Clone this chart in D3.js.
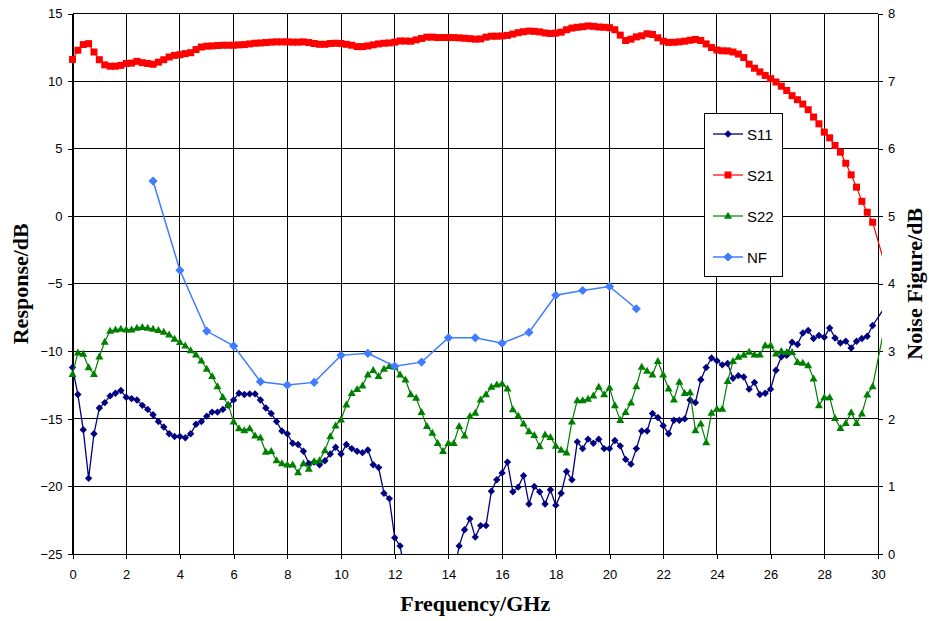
<!DOCTYPE html>
<html><head><meta charset="utf-8">
<script src="https://cdn.jsdelivr.net/npm/d3@7"></script>
<style>
html,body{margin:0;padding:0;background:#fff;}
svg{display:block;}
</style></head>
<body>
<svg id="chart" width="929" height="621"></svg>
<script>
// ---------- DATA ----------
// sweep grid: 0 to 29.8 GHz in 0.2 GHz steps, plus one sample just beyond the axis end
const freqStart = 0, freqStep = 0.2, freqCount = 150, tailFreq = 30.2;
const freq = d3.range(freqCount).map(i => +(freqStart + i * freqStep).toFixed(1)).concat([tailFreq]);

const s11 = [
 -11.2,-13.2,-15.8,-19.4,-16.1,-14.2,-13.8,-13.3,-13.1,-12.9,
 -13.4,-13.5,-13.6,-14.0,-14.3,-14.7,-15.2,-15.6,-16.1,-16.3,
 -16.3,-16.4,-16.1,-15.4,-15.2,-14.8,-14.5,-14.5,-14.3,-14.0,
 -13.6,-13.1,-13.2,-13.15,-13.15,-13.6,-14.2,-14.6,-15.2,-15.9,
 -16.1,-16.8,-16.9,-17.4,-18.3,-18.2,-18.4,-18.1,-17.6,-17.1,
 -17.6,-16.9,-17.2,-17.4,-17.5,-17.3,-18.4,-18.6,-20.5,-20.9,
 -23.8,-24.4,-26.6,-28.5,-30.5,-32,-33,-33,-32,-30.5,
 -28.5,-26.6,-24.4,-23.2,-22.4,-23.75,-22.9,-22.9,-20.35,-19.5,
 -19.0,-18.2,-20.4,-20.05,-19.2,-21.3,-20.0,-20.4,-21.3,-20.25,
 -21.4,-20.5,-18.9,-19.5,-16.7,-17.2,-16.5,-16.8,-16.5,-17.2,
 -17.2,-16.6,-17.0,-18.0,-18.35,-17.2,-15.9,-15.9,-14.6,-14.9,
 -15.5,-16.1,-15.1,-15.1,-15.0,-13.6,-13.8,-12.1,-11.2,-10.5,
 -10.7,-11.0,-10.9,-12.0,-11.8,-11.9,-12.8,-12.3,-13.2,-13.1,
 -12.8,-11.4,-10.4,-10.3,-9.33,-9.5,-8.64,-8.46,-9.05,-8.83,
 -8.96,-8.27,-9.01,-9.38,-9.25,-9.75,-9.25,-9.05,-8.88,-8.09,
 -6.9
];
const s21 = [
 11.6,12.28,12.7,12.77,12.15,11.58,11.2,11.1,11.1,11.16,
 11.3,11.33,11.46,11.36,11.3,11.24,11.4,11.58,11.78,11.9,
 11.95,12.03,12.1,12.33,12.52,12.58,12.6,12.63,12.65,12.65,
 12.65,12.68,12.7,12.75,12.8,12.82,12.85,12.88,12.9,12.9,
 12.9,12.88,12.88,12.9,12.85,12.78,12.72,12.72,12.78,12.8,
 12.78,12.72,12.65,12.55,12.55,12.6,12.68,12.75,12.8,12.82,
 12.88,12.97,12.96,12.95,13.05,13.15,13.25,13.25,13.22,13.22,
 13.22,13.22,13.2,13.17,13.14,13.1,13.12,13.25,13.32,13.32,
 13.34,13.38,13.48,13.58,13.65,13.7,13.68,13.64,13.56,13.52,
 13.55,13.62,13.8,13.92,13.98,14.02,14.08,14.05,14.0,13.98,
 13.95,13.8,13.4,13.0,13.1,13.27,13.35,13.5,13.45,13.2,
 12.95,12.86,12.87,12.9,12.95,13.02,13.08,13.0,12.75,12.48,
 12.3,12.24,12.23,12.15,12.0,11.74,11.25,10.95,10.68,10.42,
 10.18,9.93,9.62,9.3,8.92,8.62,8.3,7.88,7.34,6.84,
 6.22,5.8,5.23,4.74,3.92,3.06,2.15,1.1,0.29,-0.45,
 -3.2
];
const s22 = [
 -11.7,-10.1,-10.2,-11.2,-11.7,-10.4,-9.3,-8.5,-8.4,-8.35,
 -8.4,-8.4,-8.27,-8.22,-8.27,-8.35,-8.44,-8.57,-8.77,-9.09,
 -9.33,-9.58,-9.93,-10.25,-10.7,-11.3,-11.85,-12.6,-13.4,-13.95,
 -15.2,-15.7,-15.85,-15.7,-16.25,-16.4,-17.45,-17.4,-18.07,-18.3,
 -18.4,-18.4,-18.96,-18.3,-18.7,-18.15,-18.07,-17.33,-16.3,-15.5,
 -15.06,-13.95,-13.1,-12.8,-12.54,-11.73,-11.4,-11.85,-11.3,-11.1,
 -11.16,-11.73,-12.1,-13.2,-13.45,-14.5,-15.55,-16.05,-16.8,-17.4,
 -16.8,-16.8,-15.55,-16.25,-14.8,-14.57,-13.58,-13.2,-12.64,-12.47,
 -12.4,-12.77,-14.3,-14.77,-15.36,-15.93,-16.2,-17.04,-16.17,-16.35,
 -17.0,-17.3,-17.5,-15.2,-13.63,-13.63,-13.53,-13.28,-12.64,-13.2,
 -12.7,-14.0,-15.1,-14.5,-13.8,-12.6,-11.16,-11.45,-11.73,-10.74,
 -11.73,-12.77,-13.58,-12.27,-13.1,-13.04,-15.85,-15.36,-16.74,-14.57,
 -14.27,-14.27,-12.22,-10.74,-10.42,-10.27,-10.05,-10.25,-10.25,-9.56,
 -9.56,-10.17,-10.0,-10.07,-10.07,-10.8,-10.86,-11.04,-12.02,-14.0,
 -13.41,-13.41,-14.95,-15.69,-15.32,-14.52,-15.32,-14.62,-13.21,-12.6,
 -8.6
];
const nfFreq = [3,4,5,6,7,8,9,10,11,12,13,14,15,16,17,18,19,20,21];
const nf = [5.52,4.2,3.3,3.08,2.55,2.5,2.54,2.94,2.97,2.78,2.84,3.2,3.2,3.12,3.28,3.83,3.9,3.96,3.63];

const xTicks = [0,2,4,6,8,10,12,14,16,18,20,22,24,26,28,30];
const yTicks = [-25,-20,-15,-10,-5,0,5,10,15];
const y2Ticks = [0,1,2,3,4,5,6,7,8];
const seriesNames = ["S11","S21","S22","NF"];
const xTitle = "Frequency/GHz", yTitle = "Response/dB", y2Title = "Noise Figure/dB";

// ---------- LAYOUT ----------
const L = 72.5, R = 878, T = 13.5, B = 554;
const svg = d3.select("#chart");
const x = d3.scaleLinear().domain([0,30]).range([L,R]);
const y = d3.scaleLinear().domain([-25,15]).range([B,T]);
const y2 = d3.scaleLinear().domain([0,8]).range([B,T]);
const sans = "'Liberation Sans', Arial, sans-serif";
const serif = "'Liberation Serif', 'Times New Roman', serif";

svg.append("defs").append("clipPath").attr("id","clip")
  .append("rect").attr("x",L).attr("y",T).attr("width",R-L+4).attr("height",B-T);

// grid
const grid = svg.append("g").attr("shape-rendering","crispEdges");
grid.selectAll(".hg").data(yTicks).join("line")
  .attr("x1",L).attr("x2",R).attr("y1",d=>y(d)).attr("y2",d=>y(d))
  .attr("stroke","#000").attr("stroke-width",1);
grid.selectAll(".vg").data(xTicks).join("line")
  .attr("y1",T).attr("y2",B).attr("x1",d=>x(d)).attr("x2",d=>x(d))
  .attr("stroke","#000").attr("stroke-width",1);

// axes
const axL = d3.axisLeft(y).tickValues(yTicks).tickSize(5).tickPadding(5).tickSizeOuter(0);
const axB = d3.axisBottom(x).tickValues(xTicks).tickSize(5).tickPadding(11).tickSizeOuter(0);
const axR = d3.axisRight(y2).tickValues(y2Ticks).tickSize(5).tickPadding(5).tickSizeOuter(0);
function styleAxis(g){
  g.attr("shape-rendering","crispEdges");
  g.selectAll("path,line").attr("stroke","#000");
  g.selectAll("text").attr("font-family",sans).attr("font-size",13).attr("fill","#000");
}
svg.append("g").attr("transform",`translate(${L},0)`).call(axL).call(styleAxis);
svg.append("g").attr("transform",`translate(0,${B})`).call(axB).call(styleAxis);
svg.append("g").attr("transform",`translate(${R},0)`).call(axR).call(styleAxis);

// symbols (relative shapes)
function diamond(r){ return `M0,${-r}L${r},0L0,${r}L${-r},0Z`; }
function square(s){ const h=s/2; return `M${-h},${-h}H${h}V${h}H${-h}Z`; }
function triangle(w,h){ return `M0,${-h*0.6}L${w/2},${h*0.4}L${-w/2},${h*0.4}Z`; }

const series = [
  {name:"S11", vals:s11, color:"#000080", width:1.3, sym:diamond(3.7)},
  {name:"S21", vals:s21, color:"#ff0000", width:1.2, sym:square(7)},
  {name:"S22", vals:s22, color:"#008000", width:1.2, sym:triangle(8,7)},
];
const plot = svg.append("g");
series.forEach(s=>{
  const pts = s.vals.map((v,i)=>({f:freq[i], v}));
  plot.append("path").datum(pts).attr("clip-path","url(#clip)")
    .attr("fill","none").attr("stroke",s.color).attr("stroke-width",s.width)
    .attr("d", d3.line().x(d=>x(d.f)).y(d=>y(d.v)));
  plot.append("g").selectAll("path").data(pts.filter(d=>d.f<=30 && d.v>=-25 && d.v<=15)).join("path")
    .attr("transform",d=>`translate(${x(d.f)},${y(d.v)})`)
    .attr("d",s.sym).attr("fill",s.color);
});
// NF on secondary axis
const nfColor = "#3f7cff";
const nfPts = nf.map((v,i)=>({f:nfFreq[i], v}));
plot.append("path").datum(nfPts).attr("fill","none").attr("stroke",nfColor).attr("stroke-width",1.5)
  .attr("d", d3.line().x(d=>x(d.f)).y(d=>y2(d.v)));
plot.append("g").selectAll("path").data(nfPts).join("path")
  .attr("transform",d=>`translate(${x(d.f)},${y2(d.v)})`)
  .attr("d",diamond(4.6)).attr("fill",nfColor);

// axis titles
svg.append("text").attr("x",(L+R)/2).attr("y",611).attr("text-anchor","middle")
  .attr("font-family",serif).attr("font-weight","bold").attr("font-size",22).text(xTitle);
svg.append("text").attr("transform",`translate(28,${(T+B)/2}) rotate(-90)`).attr("text-anchor","middle")
  .attr("font-family",serif).attr("font-weight","bold").attr("font-size",22).text(yTitle);
svg.append("text").attr("transform",`translate(922,${(T+B)/2}) rotate(-90)`).attr("text-anchor","middle")
  .attr("font-family",serif).attr("font-weight","bold").attr("font-size",22).text(y2Title);

// legend
const lg = svg.append("g");
lg.append("rect").attr("x",704.5).attr("y",113.5).attr("width",78).attr("height",163)
  .attr("fill","#fff").attr("stroke","#000").attr("stroke-width",1).attr("shape-rendering","crispEdges");
const legendItems = [
  {name:seriesNames[0], color:"#000080", sym:diamond(3.7), w:1.3},
  {name:seriesNames[1], color:"#ff0000", sym:square(7), w:1.2},
  {name:seriesNames[2], color:"#008000", sym:triangle(8,7), w:1.2},
  {name:seriesNames[3], color:nfColor, sym:diamond(4.6), w:1.5},
];
legendItems.forEach((d,i)=>{
  const cy = 134 + i*41;
  lg.append("line").attr("x1",713).attr("x2",743).attr("y1",cy).attr("y2",cy)
    .attr("stroke",d.color).attr("stroke-width",d.w);
  lg.append("path").attr("transform",`translate(728,${cy})`).attr("d",d.sym).attr("fill",d.color);
  lg.append("text").attr("x",747).attr("y",cy+5.5).attr("font-family",sans).attr("font-size",15)
    .attr("fill","#000").text(d.name);
});
</script>
</body></html>
